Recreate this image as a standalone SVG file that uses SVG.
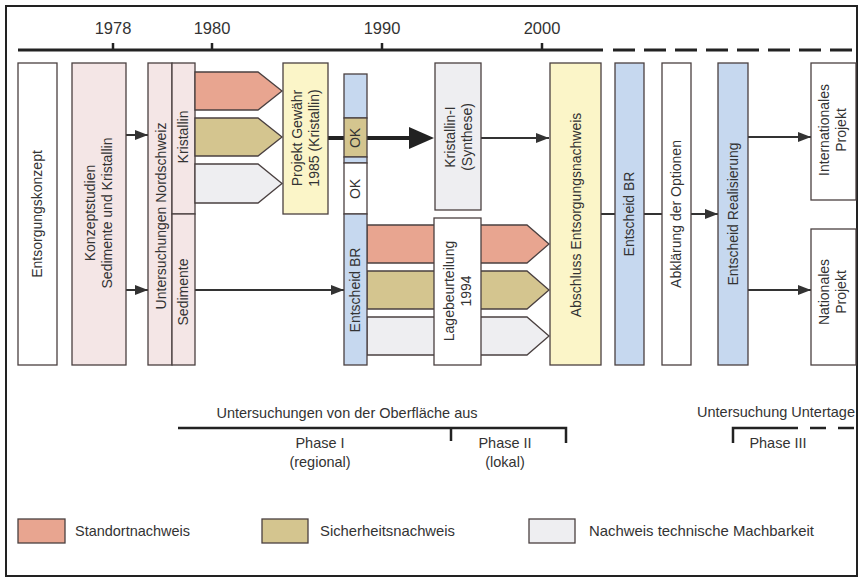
<svg xmlns="http://www.w3.org/2000/svg" width="863" height="579" viewBox="0 0 863 579">
<defs>
<style>
text{font-family:"Liberation Sans",Arial,sans-serif;fill:#333;}
.yr{font-size:16.5px;text-anchor:middle;}
.bx{stroke:#4a4040;stroke-width:1.3;}
.lb{font-size:14px;text-anchor:middle;}
.sm{font-size:14.5px;}
.lg{font-size:15px;}
.w{fill:#ffffff;}
.p{fill:#f4e6e6;}
.y{fill:#fbf5c8;}
.b{fill:#c6d8ef;}
.r{fill:#e8a590;}
.o{fill:#d4c58f;}
.g{fill:#eeeef1;}
.ln{stroke:#333;stroke-width:2;fill:none;}
</style>
<marker id="ah" viewBox="0 0 13 10" refX="13" refY="5" markerWidth="13" markerHeight="10" markerUnits="userSpaceOnUse" orient="auto"><path d="M0,0 L13,5 L0,10 Z" fill="#333"/></marker>
</defs>
<rect x="0" y="0" width="863" height="579" fill="#ffffff"/>
<rect x="6" y="6" width="851" height="570" fill="none" stroke="#222" stroke-width="2"/>

<g id="timeline">
<line x1="18" y1="50" x2="603" y2="50" stroke="#222" stroke-width="3"/>
<line x1="613" y1="50" x2="857" y2="50" stroke="#222" stroke-width="3" stroke-dasharray="22,9"/>
<line x1="113" y1="43" x2="113" y2="50" stroke="#222" stroke-width="2.5"/>
<line x1="212" y1="43" x2="212" y2="50" stroke="#222" stroke-width="2.5"/>
<line x1="382" y1="43" x2="382" y2="50" stroke="#222" stroke-width="2.5"/>
<line x1="542" y1="43" x2="542" y2="50" stroke="#222" stroke-width="2.5"/>
<text class="yr" x="113" y="34">1978</text>
<text class="yr" x="212" y="34">1980</text>
<text class="yr" x="382" y="34">1990</text>
<text class="yr" x="542" y="34">2000</text>
</g>

<g id="connectors">
<line class="ln" x1="126" y1="135" x2="148" y2="135" marker-end="url(#ah)"/>
<line class="ln" x1="126" y1="290" x2="148" y2="290" marker-end="url(#ah)"/>
<line class="ln" x1="195" y1="290" x2="344" y2="290" marker-end="url(#ah)"/>
<line x1="328" y1="138" x2="410" y2="138" stroke="#222" stroke-width="4"/>
<polygon points="409,127 434,138 409,149" fill="#222"/>
<line class="ln" x1="481" y1="138" x2="549" y2="138" marker-end="url(#ah)"/>
<line class="ln" x1="601" y1="214" x2="615" y2="214"/>
<line class="ln" x1="644" y1="214" x2="662" y2="214"/>
<line class="ln" x1="691" y1="214" x2="718" y2="214" marker-end="url(#ah)"/>
<line class="ln" x1="748" y1="137" x2="811" y2="137" marker-end="url(#ah)"/>
<line class="ln" x1="748" y1="290" x2="811" y2="290" marker-end="url(#ah)"/>
</g>

<g id="entsorgungskonzept">
<rect class="bx w" x="18" y="63" width="39" height="302"/>
<text class="lb" transform="translate(42,214) rotate(-90)">Entsorgungskonzept</text>
</g>

<g id="konzeptstudien">
<rect class="bx p" x="72" y="63" width="54" height="302"/>
<text class="lb" transform="translate(99,213) rotate(-90)"><tspan x="0" dy="-4">Konzeptstudien</tspan><tspan x="0" dy="17">Sedimente und Kristallin</tspan></text>
</g>

<g id="untersuchungen">
<rect class="bx p" x="148" y="63" width="24" height="302"/>
<text class="lb" transform="translate(166,216) rotate(-90)">Untersuchungen Nordschweiz</text>
</g>

<g id="kristallin">
<rect class="bx p" x="172" y="63" width="23" height="151"/>
<text class="lb" transform="translate(188,137) rotate(-90)">Kristallin</text>
</g>

<g id="sedimente">
<rect class="bx p" x="172" y="214" width="23" height="151"/>
<text class="lb" transform="translate(188,292) rotate(-90)">Sedimente</text>
</g>

<g id="pfeile1980">
<polygon class="bx r" points="195,72 258,72 282,91 258,110 195,110"/>
<polygon class="bx o" points="195,118 258,118 282,137 258,156 195,156"/>
<polygon class="bx g" points="195,164 258,164 282,183.5 258,203 195,203"/>
</g>

<g id="projekt-gewaehr">
<rect class="bx y" x="283" y="63" width="45" height="151"/>
<text class="lb" transform="translate(306,138) rotate(-90)"><tspan x="0" dy="-4">Projekt Gewähr</tspan><tspan x="0" dy="17">1985 (Kristallin)</tspan></text>
</g>

<g id="pfeile1994">
<polygon class="bx r" points="367,225 527,225 549,244 527,263 367,263"/>
<polygon class="bx o" points="367,271 527,271 549,290 527,309 367,309"/>
<polygon class="bx g" points="367,317 527,317 549,336 527,355 367,355"/>
</g>

<g id="ok-spalte">
<rect class="bx b" x="344" y="74" width="23" height="44"/>
<rect class="bx o" x="344" y="118" width="23" height="39"/>
<text class="lb" transform="translate(360,138) rotate(-90)">OK</text>
<rect class="bx b" x="344" y="157" width="23" height="6"/>
<rect class="bx w" x="344" y="163" width="23" height="51"/>
<text class="lb" transform="translate(360,189) rotate(-90)">OK</text>
</g>

<g id="entscheid-br-1">
<rect class="bx b" x="344" y="214" width="23" height="151"/>
<text class="lb" transform="translate(360,290) rotate(-90)">Entscheid BR</text>
</g>

<g id="kristallin-1">
<rect class="bx g" x="435" y="63" width="46" height="147"/>
<text class="lb" transform="translate(459,137) rotate(-90)"><tspan x="0" dy="-4">Kristallin-I</tspan><tspan x="0" dy="17">(Synthese)</tspan></text>
</g>

<g id="lagebeurteilung">
<rect class="bx w" x="434" y="218" width="47" height="147"/>
<text class="lb" transform="translate(458,291) rotate(-90)"><tspan x="0" dy="-4">Lagebeurteilung</tspan><tspan x="0" dy="17">1994</tspan></text>
</g>

<g id="abschluss">
<rect class="bx y" x="550" y="63" width="51" height="302"/>
<text class="lb" transform="translate(581,215) rotate(-90)">Abschluss Entsorgungsnachweis</text>
</g>

<g id="entscheid-br-2">
<rect class="bx b" x="615" y="63" width="29" height="302"/>
<text class="lb" transform="translate(634,214) rotate(-90)">Entscheid BR</text>
</g>

<g id="abklaerung">
<rect class="bx w" x="662" y="63" width="29" height="302"/>
<text class="lb" transform="translate(681,214) rotate(-90)">Abklärung der Optionen</text>
</g>

<g id="entscheid-realisierung">
<rect class="bx b" x="718" y="63" width="30" height="302"/>
<text class="lb" transform="translate(738,214) rotate(-90)">Entscheid Realisierung</text>
</g>

<g id="internationales">
<rect class="bx w" x="811" y="63" width="45" height="137"/>
<text class="lb" transform="translate(833,130) rotate(-90)"><tspan x="0" dy="-4">Internationales</tspan><tspan x="0" dy="17">Projekt</tspan></text>
</g>

<g id="nationales">
<rect class="bx w" x="811" y="229" width="45" height="136"/>
<text class="lb" transform="translate(833,292) rotate(-90)"><tspan x="0" dy="-4">Nationales</tspan><tspan x="0" dy="17">Projekt</tspan></text>
</g>

<g id="phasen">
<text class="sm" x="347" y="418" text-anchor="middle">Untersuchungen von der Oberfläche aus</text>
<polyline points="178,428 566,428 566,443" stroke="#222" stroke-width="2.5" fill="none"/>
<line x1="451" y1="428" x2="451" y2="441" stroke="#222" stroke-width="2.5"/>
<text class="sm" x="320" y="448" text-anchor="middle">Phase  I</text>
<text class="sm" x="320" y="467" text-anchor="middle">(regional)</text>
<text class="sm" x="505" y="448" text-anchor="middle">Phase  II</text>
<text class="sm" x="505" y="467" text-anchor="middle">(lokal)</text>
<text class="sm" x="776" y="417" text-anchor="middle">Untersuchung Untertage</text>
<polyline points="733,443 733,428 798,428" stroke="#222" stroke-width="2.5" fill="none"/>
<line x1="810" y1="428" x2="856" y2="428" stroke="#222" stroke-width="2.5" stroke-dasharray="16,12"/>
<text class="sm" x="778" y="448" text-anchor="middle">Phase  III</text>
</g>

<g id="legende">
<rect class="bx r" x="18" y="519" width="47" height="24"/>
<text class="lg" x="75" y="536" textLength="115" lengthAdjust="spacingAndGlyphs">Standortnachweis</text>
<rect class="bx o" x="262" y="519" width="46" height="24"/>
<text class="lg" x="320" y="536" textLength="135" lengthAdjust="spacingAndGlyphs">Sicherheitsnachweis</text>
<rect class="bx g" x="529" y="519" width="46" height="24"/>
<text class="lg" x="589" y="536" textLength="225" lengthAdjust="spacingAndGlyphs">Nachweis technische Machbarkeit</text>
</g>
</svg>
